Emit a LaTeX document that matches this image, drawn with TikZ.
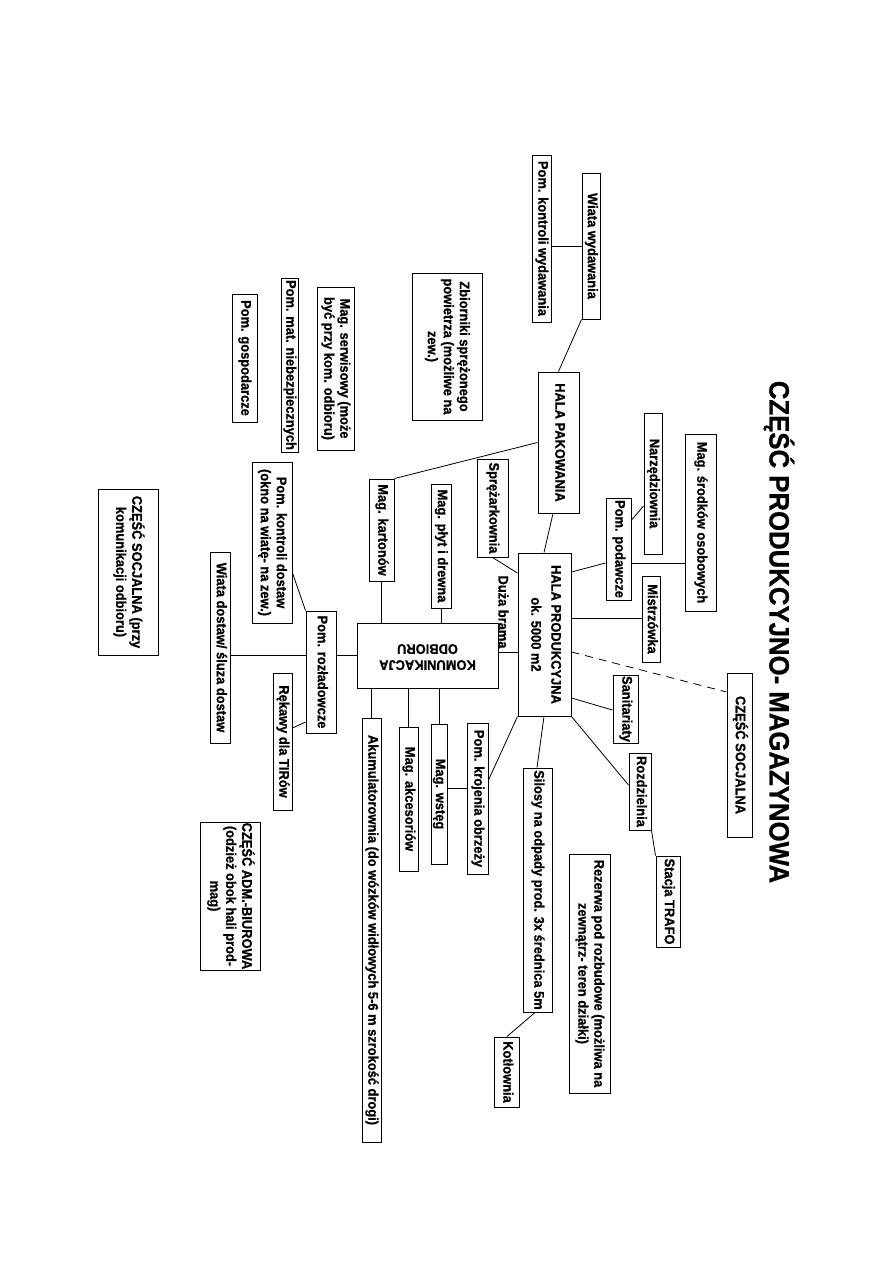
\documentclass[tikz,border=0pt]{standalone}
\usepackage{fontspec}
\setmainfont{Liberation Sans}[BoldFeatures={FakeStretch=0.92,FakeBold=0.8}]
\usepackage{graphicx}
\tikzset{
  bx/.style={draw,line width=1pt,inner sep=0pt,font=\fontsize{14}{16}\selectfont\bfseries},
  conn/.style={line width=0.8pt},
  dconn/.style={line width=0.8pt,dash pattern=on 8pt off 6pt}
}
% #1 angle, #2 name, #3 x1, #4 y1, #5 x2, #6 y2, #7 text
\newcommand\bx[7][-90]{\node[bx,minimum width={#5-#3},minimum height={#6-#4}] (#2) at ({(#3+#5)/2},{(#4+#6)/2}) {\rotatebox{#1}{\begin{tabular}{@{}c@{}}#7\end{tabular}}};}
\begin{document}
\begin{tikzpicture}[x=1pt,y=-1pt]
\useasboundingbox (0,0) rectangle (893,1263);
\fill[white] (0,0) rectangle (893,1263);
\node[font=\fontsize{28}{32}\selectfont\bfseries] (title) at (779,632) {\rotatebox{-90}{CZĘŚĆ PRODUKCYJNO- MAGAZYNOWA}};
\bx{ww}{582}{173}{600}{319}{Wiata wydawania}
\bx{pkw}{532}{155}{551}{322}{Pom. kontroli wydawania}
\bx{hpak}{538}{372}{579}{513}{HALA PAKOWANIA}
\bx{zb}{412}{273}{482}{420}{Zbiorniki sprężonego\\powietrza (możliwe na\\zew.)}
\bx{ms}{317}{287}{354}{450}{Mag. serwisowy (może\\być przy kom. odbioru)}
\bx{pmn}{281}{278}{298}{452}{Pom. mat. niebezpiecznych}
\bx{pg}{232}{294}{257}{422}{Pom. gospodarcze}
\bx{nar}{644}{413}{662}{554}{Narzędziownia}
\bx{mso}{685}{434}{716}{611}{Mag. środków osobowych}
\bx{pp}{606}{498}{631}{600}{Pom. podawcze}
\bx{mis}{642}{576}{660}{662}{Mistrzówka}
\bx{hprod}{518}{553}{571}{716}{HALA PRODUKCYJNA\\[4pt]ok. 5000 m2}
\bx{cs}{727}{673}{752}{837}{CZĘŚĆ SOCJALNA}
\bx{san}{613}{675}{638}{743}{Sanitariaty}
\bx{roz}{629}{753}{651}{830}{Rozdzielnia}
\bx{st}{656}{856}{680}{947}{Stacja TRAFO}
\bx{rez}{569}{854}{610}{1093}{Rezerwa pod rozbudowe (możliwa na\\zewnątrz- teren działki)}
\bx{sil}{523}{768}{552}{1012}{Silosy na odpady prod. 3x średnica 5m}
\bx{kot}{494}{1037}{519}{1107}{Kotłownia}
\bx{pko}{467}{723}{488}{874}{Pom. krojenia obrzeży}
\bx{mw}{432}{724}{446}{864}{Mag. wstęg}
\bx{ma}{399}{727}{418}{871}{Mag. akcesoriów}
\bx{aku}{362}{718}{381}{1142}{Akumulatorownia (do wózków widłowych 5-6 m szrokość drogi)}
\bx[180]{kom}{357}{623}{498}{688}{KOMUNIKACJA\\ODBIORU}
\bx{spr}{477}{459}{508}{557}{Sprężarkownia}
\bx{mpd}{431}{484}{451}{608}{Mag. płyt i drewna}
\bx{mk}{369}{479}{394}{581}{Mag. kartonów}
\bx{pr}{306}{611}{336}{733}{Pom. rozładowcze}
\bx{pkd}{252}{462}{292}{623}{Pom. kontroli dostaw\\(okno na wiatę- na zew.)}
\bx{wd}{210}{552}{230}{743}{Wiata dostaw/ śluza dostaw}
\bx{rt}{273}{673}{292}{810}{Rękawy dla TIRów}
\bx{csp}{98}{489}{158}{655}{CZĘŚĆ SOCJALNA (przy\\komunikacji odbioru)}
\bx{cab}{200}{822}{260}{970}{CZĘŚĆ ADM.-BIUROWA\\(odzież obok hali prod-\\mag)}
\node[font=\fontsize{14}{16}\selectfont\bfseries,inner sep=0pt] (brama) at (503.5,612) {\rotatebox{-90}{Duża brama}};
% connectors
\draw[conn] (pkw.east |- 0,246) -- (ww.west |- 0,246);
\draw[conn] (ww.south west) -- (hpak.north);
\draw[conn] (hpak.west) -- (mk.north east);
\draw[conn] (hpak.south -| 553,0) -- (hprod.north -| 544,0);
\draw[conn] (spr.south) -- (hprod.west |- 0,573);
\draw[conn] (mpd.south) -- (kom.north -| mpd.south);
\draw[conn] (mk.south) -- (kom.north -| mk.south);
\draw[conn] (kom.east |- 0,652) -- (hprod.west |- 0,652);
\draw[conn] (pp.west |- 0,563) -- (hprod.east |- 0,572);
\draw[conn] (pp.east |- 0,520) -- (nar.west |- 0,506);
\draw[conn] (pp.east |- 0,563) -- (mso.west |- 0,563);
\draw[conn] (hprod.east |- 0,618) -- (mis.west |- 0,618);
\draw[dconn] (hprod.east |- 0,652) -- (cs.west |- 0,692);
\draw[conn] (hprod.east |- 0,698) -- (san.west |- 0,710);
\draw[conn] (hprod.south east) -- (roz.west |- 0,785);
\draw[conn] (roz.south east) -- (st.north west);
\draw[conn] (hprod.south -| 544,0) -- (sil.north -| 537,0);
\draw[conn] (sil.south -| 535,0) -- (kot.north -| 507,0);
\draw[conn] (hprod.south west) -- (pko.east |- 0,780);
\draw[conn] (mw.east |- 0,788) -- (pko.west |- 0,788);
\draw[conn] (kom.south -| mw.north) -- (mw.north);
\draw[conn] (kom.south -| ma.north) -- (ma.north);
\draw[conn] (kom.south -| aku.north) -- (aku.north);
\draw[conn] (pr.east |- 0,655) -- (kom.west |- 0,655);
\draw[conn] (wd.east |- 0,655) -- (pr.west |- 0,655);
\draw[conn] (pkd.east |- 0,573) -- (pr.north west);
\draw[conn] (rt.east |- 0,728) -- (pr.west |- 0,722);
\end{tikzpicture}
\end{document}
